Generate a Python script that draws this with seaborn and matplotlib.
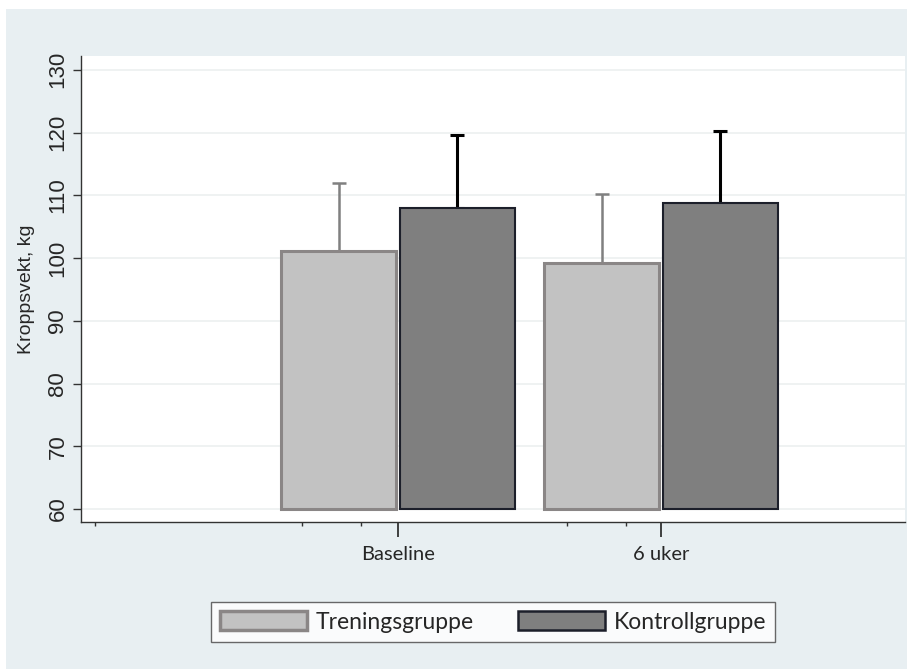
import matplotlib
matplotlib.use('Agg')
import matplotlib.pyplot as plt
import seaborn as sns
import pandas as pd
from matplotlib.patches import Patch, Rectangle

# data
tidspunkt = ['Baseline', '6 uker']
grupper = ['Treningsgruppe', 'Kontrollgruppe']
trening_snitt = [101.1, 99.2]
trening_sd = [10.9, 11.0]
kontroll_snitt = [108.0, 108.7]
kontroll_sd = [11.6, 11.6]
y_ticks = [60, 70, 80, 90, 100, 110, 120, 130]

fyll = {'Treningsgruppe': '#c2c2c2', 'Kontrollgruppe': '#7f7f7f'}
kant = {'Treningsgruppe': '#8a8686', 'Kontrollgruppe': '#1c1f2a'}
kantbredde = {'Treningsgruppe': 2.2, 'Kontrollgruppe': 1.5}
feilfarge = {'Treningsgruppe': '#808080', 'Kontrollgruppe': '#000000'}
feilbredde = {'Treningsgruppe': 1.8, 'Kontrollgruppe': 2.2}

df = pd.DataFrame({
    'tid': tidspunkt * 2,
    'gruppe': [grupper[0]] * 2 + [grupper[1]] * 2,
    'vekt': trening_snitt + kontroll_snitt,
    'sd': trening_sd + kontroll_sd,
})

sns.set_style('white')
plt.rcParams['font.family'] = ['Liberation Sans', 'DejaVu Sans']

fig = plt.figure(figsize=(9.07, 6.69), dpi=100)
fig.patch.set_facecolor('white')
fig.patches.append(Rectangle((6 / 907, 0), 901 / 907, 1 - 9 / 669, transform=fig.transFigure,
                             facecolor='#e8eff2', edgecolor='none', zorder=-10))
ax = fig.add_axes([81 / 907, 1 - 522 / 669, 824 / 907, 466 / 669])
ax.set_facecolor('white')

sns.barplot(data=df, x='tid', y='vekt', hue='gruppe', order=tidspunkt, hue_order=grupper,
            palette=fyll, width=0.9, errorbar=None, legend=False, ax=ax, zorder=3)

bunn = 60
for gruppe, cont in zip(grupper, ax.containers):
    sub = df[df['gruppe'] == gruppe]
    xs = []
    for bar in cont:
        topp = bar.get_height()
        bar.set_y(bunn)
        bar.set_height(topp - bunn)
        # smal luke mellom stolpene i hver gruppe
        bar.set_x(bar.get_x() + 0.006)
        bar.set_width(bar.get_width() - 0.012)
        bar.set_edgecolor(kant[gruppe])
        bar.set_linewidth(kantbredde[gruppe])
        xs.append(bar.get_x() + bar.get_width() / 2)
    ax.errorbar(xs, sub['vekt'].values, yerr=[[0] * len(sub), sub['sd'].values],
                fmt='none', ecolor=feilfarge[gruppe], elinewidth=feilbredde[gruppe],
                capsize=5, capthick=feilbredde[gruppe], zorder=2)

ax.set_ylim(57.93, 132.2)
ax.set_xlim(-1.205, 1.928)
ax.set_yticks(y_ticks)
ax.set_yticklabels([str(v) for v in y_ticks], rotation=90, va='center', fontsize=16)
ax.set_xticks([-1.152, -0.365, -0.141, 0.643, 0.867], minor=True)
ax.yaxis.grid(True, color='#eef1f1', linewidth=1.3)
ax.set_axisbelow(True)
ax.tick_params(axis='y', length=6, width=1, color='#333333', pad=3, left=True)
ax.tick_params(axis='x', which='major', length=11, width=1.2, color='#222222', pad=6, bottom=True)
ax.tick_params(axis='x', which='minor', length=3, width=1, color='#333333', bottom=True)
for lab in ax.get_xticklabels():
    lab.set_fontfamily(['Lato', 'DejaVu Sans'])
    lab.set_fontsize(14.5)

ax.set_xlabel('')
ax.set_ylabel('Kroppsvekt, kg', fontsize=14, labelpad=9)

for side in ['top', 'right']:
    ax.spines[side].set_visible(False)
for side in ['left', 'bottom']:
    ax.spines[side].set_color('#333333')
    ax.spines[side].set_linewidth(1)

handles = [Patch(facecolor=fyll[g], edgecolor=kant[g], linewidth=kantbredde[g] + 0.3, label=g)
           for g in grupper]
leg = fig.legend(handles=handles, loc='center', bbox_to_anchor=(493 / 907, 1 - 622 / 669),
                 ncol=2, frameon=True, fancybox=False, handlelength=3.8, handleheight=0.9,
                 handletextpad=0.4, columnspacing=1.9, borderpad=0.4,
                 prop={'family': ['Lato', 'DejaVu Sans'], 'size': 16.5})
leg.get_frame().set_edgecolor('#444444')
leg.get_frame().set_linewidth(1)
leg.get_frame().set_facecolor('white')

fig.savefig('out.png', dpi=100, facecolor=fig.get_facecolor())
